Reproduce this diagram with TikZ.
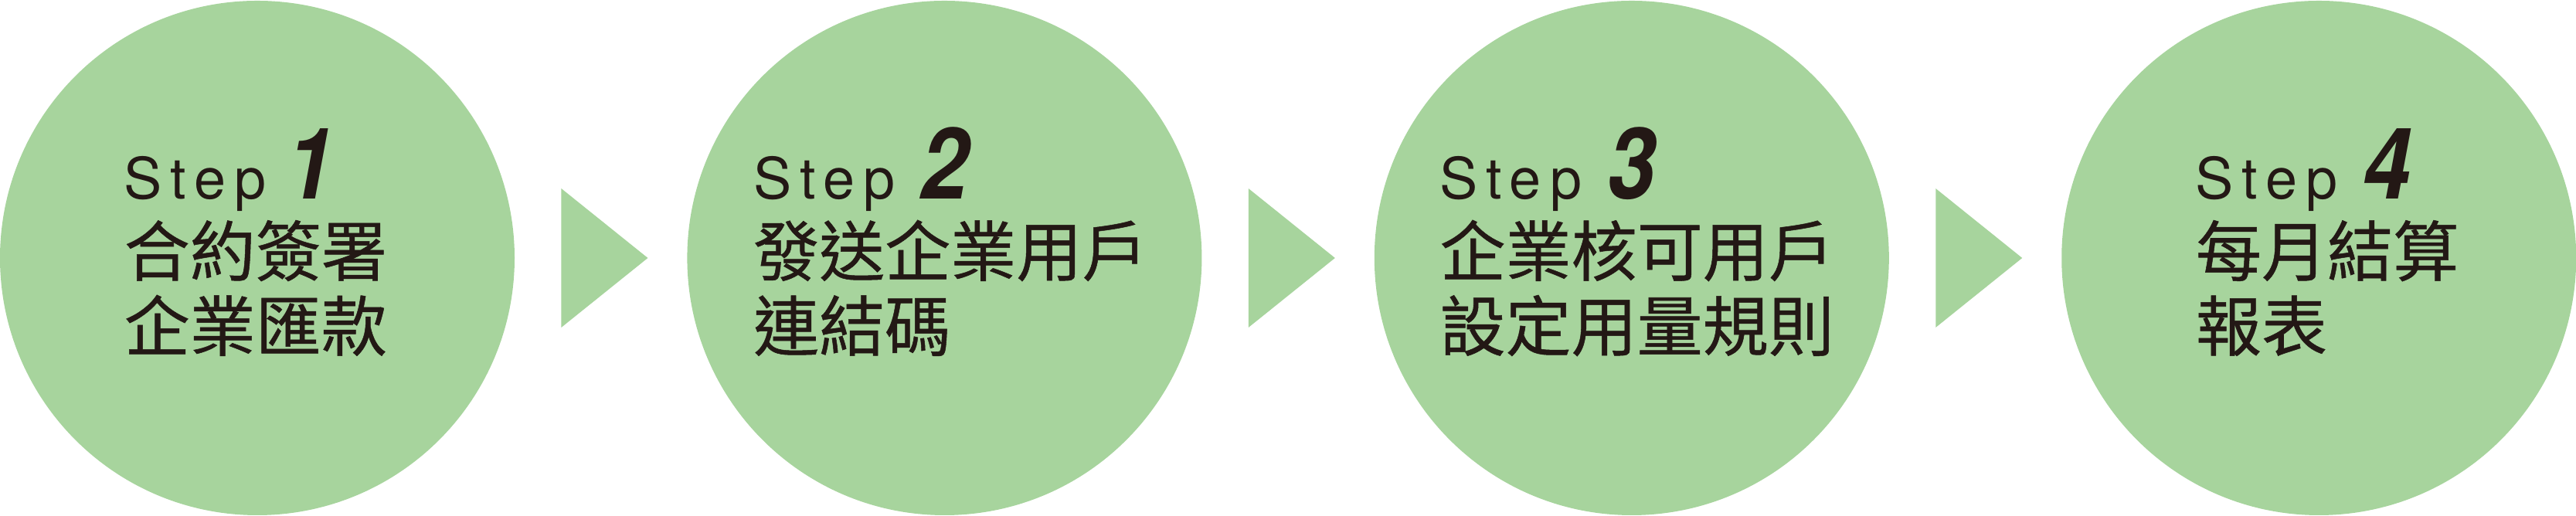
\documentclass[tikz,border=0pt]{standalone}
\usepackage{fontspec}
\setmainfont{TeX Gyre Heros}
\newfontfamily\cjkfont[FakeBold=0.6]{Noto Sans CJK TC}
\newfontfamily\stepfont[LetterSpace=15]{TeX Gyre Heros}
\newfontfamily\numfont[FakeStretch=0.87]{TeX Gyre Heros}
\usetikzlibrary{positioning,shapes.geometric,calc}
\definecolor{stepgreen}{RGB}{167,212,157}
\definecolor{inkblack}{RGB}{35,24,21}
\newcommand\stepnum[2][0.33cm]{\hspace{#1}{\numfont\bfseries\itshape\fontsize{36.5pt}{40pt}\selectfont #2}}

\begin{document}
\begin{tikzpicture}[
    node distance=2.22cm,
    stepdisc/.style={circle, fill=stepgreen, minimum size=6.66cm, inner sep=0},
    pointer/.style={isosceles triangle, isosceles triangle stretches, fill=stepgreen,
      minimum width=1.8cm, minimum height=1.12cm, inner sep=0},
    steptitle/.style={anchor=base west, inner sep=0, text=inkblack,
      font=\stepfont\fontsize{21pt}{24pt}\selectfont},
    stepline/.style={anchor=base west, inner sep=0, text=inkblack,
      font=\cjkfont\fontsize{24.2pt}{28pt}\selectfont}
  ]
    \useasboundingbox (0,0) rectangle (33.34,6.68);
    % discs
    \node [stepdisc] (c1) at (3.33,3.34) {};
    \node [stepdisc, right=of c1] (c2) {};
    \node [stepdisc, right=of c2] (c3) {};
    \node [stepdisc, right=of c3] (c4) {};
    % pointers
    \node [pointer, right=0.59cm of c1] (p1) {};
    \node [pointer, right=0.59cm of c2] (p2) {};
    \node [pointer, right=0.59cm of c3] (p3) {};
    % step 1
    \node [steptitle] (s1) at ($(c1.center)+(-1.73,0.76)$) {Step\stepnum[0.26cm]{1}};
    \node [stepline, below=0.99cm of s1.base west, anchor=base west] (a1) {合約簽署};
    \node [stepline, below=0.97cm of a1.base west, anchor=base west] (b1) {企業匯款};
    % step 2
    \node [steptitle] (s2) at ($(c2.center)+(-2.48,0.76)$) {Step\stepnum{2}};
    \node [stepline, below=0.99cm of s2.base west, anchor=base west] (a2) {發送企業用戶};
    \node [stepline, below=0.97cm of a2.base west, anchor=base west] (b2) {連結碼};
    % step 3
    \node [steptitle] (s3) at ($(c3.center)+(-2.49,0.76)$) {Step\stepnum{3}};
    \node [stepline, below=0.99cm of s3.base west, anchor=base west] (a3) {企業核可用戶};
    \node [stepline, below=0.97cm of a3.base west, anchor=base west] (b3) {設定用量規則};
    % step 4
    \node [steptitle] (s4) at ($(c4.center)+(-1.60,0.76)$) {Step\stepnum{4}};
    \node [stepline, below=0.99cm of s4.base west, anchor=base west] (a4) {每月結算};
    \node [stepline, below=0.97cm of a4.base west, anchor=base west] (b4) {報表};
\end{tikzpicture}
\end{document}
